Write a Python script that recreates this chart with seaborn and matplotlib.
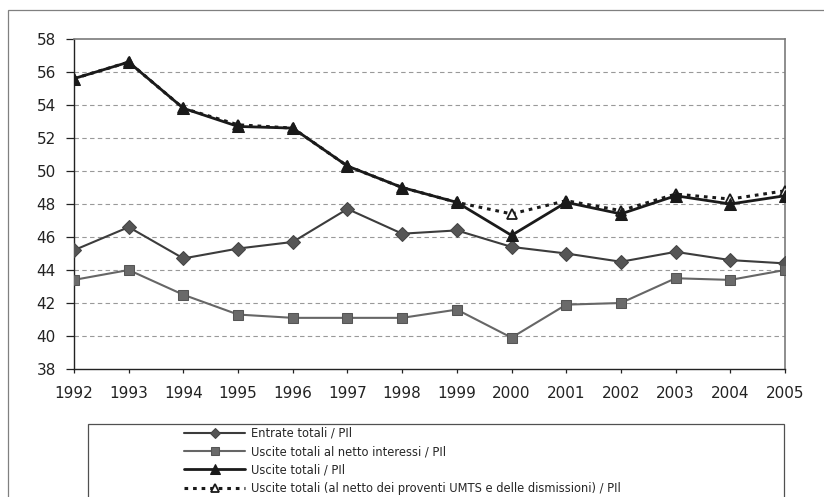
import matplotlib
matplotlib.use("Agg")
import matplotlib.pyplot as plt
from matplotlib.patches import Rectangle
import seaborn as sns
import pandas as pd

# Finanza pubblica, in % del PIL
anni = list(range(1992, 2006))
entrate = [45.2, 46.6, 44.7, 45.3, 45.7, 47.7, 46.2, 46.4, 45.4, 45.0, 44.5, 45.1, 44.6, 44.4]
uscite_netto_interessi = [43.4, 44.0, 42.5, 41.3, 41.1, 41.1, 41.1, 41.6, 39.9, 41.9, 42.0, 43.5, 43.4, 44.0]
uscite_totali = [55.6, 56.6, 53.8, 52.7, 52.6, 50.3, 49.0, 48.1, 46.1, 48.1, 47.4, 48.5, 48.0, 48.5]
uscite_netto_umts = [55.6, 56.6, 53.8, 52.8, 52.6, 50.3, 49.0, 48.1, 47.4, 48.2, 47.6, 48.6, 48.3, 48.8]

etichette = [
    "Entrate totali / PIl",
    "Uscite totali al netto interessi / PIl",
    "Uscite totali / PIl",
    "Uscite totali (al netto dei proventi UMTS e delle dismissioni) / PIl",
]

df = pd.DataFrame({
    "anno": anni,
    "entrate": entrate,
    "netto_int": uscite_netto_interessi,
    "totali": uscite_totali,
    "netto_umts": uscite_netto_umts,
})

sns.set_style("white")
plt.rcParams["font.family"] = ["DejaVu Sans"]

W, H = 824, 497
fig = plt.figure(figsize=(W / 100, H / 100), dpi=100)
ax = fig.add_axes([74 / W, 1 - 369 / H, (785 - 74) / W, (369 - 39) / H])

# outer frame of the figure
fig.patches.append(Rectangle((8 / W, -0.1), 1.2, 1.1 - 10 / H, transform=fig.transFigure,
                             fill=False, edgecolor="#808080", linewidth=0.9))
# legend frame
fig.patches.append(Rectangle((88 / W, -0.1), (784 - 88) / W, 0.1 + 1 - 424 / H,
                             transform=fig.transFigure, fill=False,
                             edgecolor="#505050", linewidth=0.9))

# grid
for yv in range(40, 58, 2):
    ax.axhline(yv, color="#999999", linewidth=0.8, dashes=(4, 3), zorder=0)

sns.lineplot(data=df, x="anno", y="entrate", ax=ax, color="#3c3c3c", linewidth=1.5,
             marker="D", markersize=7, markerfacecolor="#555555", markeredgecolor="#444444",
             label=etichette[0], zorder=3)
sns.lineplot(data=df, x="anno", y="netto_int", ax=ax, color="#666666", linewidth=1.5,
             marker="s", markersize=7.5, markerfacecolor="#6a6a6a", markeredgecolor="#555555",
             label=etichette[1], zorder=3)
sns.lineplot(data=df, x="anno", y="netto_umts", ax=ax, color="#1a1a1a", linewidth=2.2,
             linestyle=(0, (1.2, 1.6)), marker="^", markersize=7.5, markerfacecolor="white",
             markeredgecolor="#1a1a1a", markeredgewidth=1.3,
             label=etichette[3], zorder=3)
sns.lineplot(data=df, x="anno", y="totali", ax=ax, color="#1a1a1a", linewidth=2.0,
             marker="^", markersize=9, markerfacecolor="#1a1a1a", markeredgecolor="#1a1a1a",
             label=etichette[2], zorder=4)

ax.set_xlim(1992, 2005)
ax.set_ylim(38, 58)
ax.set_xticks(anni)
ax.set_xticklabels([str(a) for a in anni])
ax.set_yticks(range(38, 60, 2))
ax.set_xlabel("")
ax.set_ylabel("")
ax.tick_params(axis="y", direction="out", length=6, width=0.9, pad=7, labelsize=11,
               colors="#222222", left=True)
ax.tick_params(axis="x", direction="out", length=3, width=0.9, pad=9, labelsize=11,
               colors="#222222", bottom=True)

for side in ["left", "bottom"]:
    ax.spines[side].set_color("#222222")
    ax.spines[side].set_linewidth(1.0)
for side in ["top", "right"]:
    ax.spines[side].set_visible(True)
    ax.spines[side].set_color("#7a7a7a")
    ax.spines[side].set_linewidth(1.2)

handles, labels = ax.get_legend_handles_labels()
order = [labels.index(e) for e in etichette]
ax.get_legend().remove()
fig.legend([handles[i] for i in order], [labels[i] for i in order],
           loc="upper left", bbox_to_anchor=(184 / W, 1 - 427 / H),
           frameon=False, fontsize=8.3, handlelength=5.3, handletextpad=0.55,
           labelspacing=0.45, borderpad=0, borderaxespad=0, markerscale=0.75)

fig.savefig("out.png", dpi=100, facecolor="white")
